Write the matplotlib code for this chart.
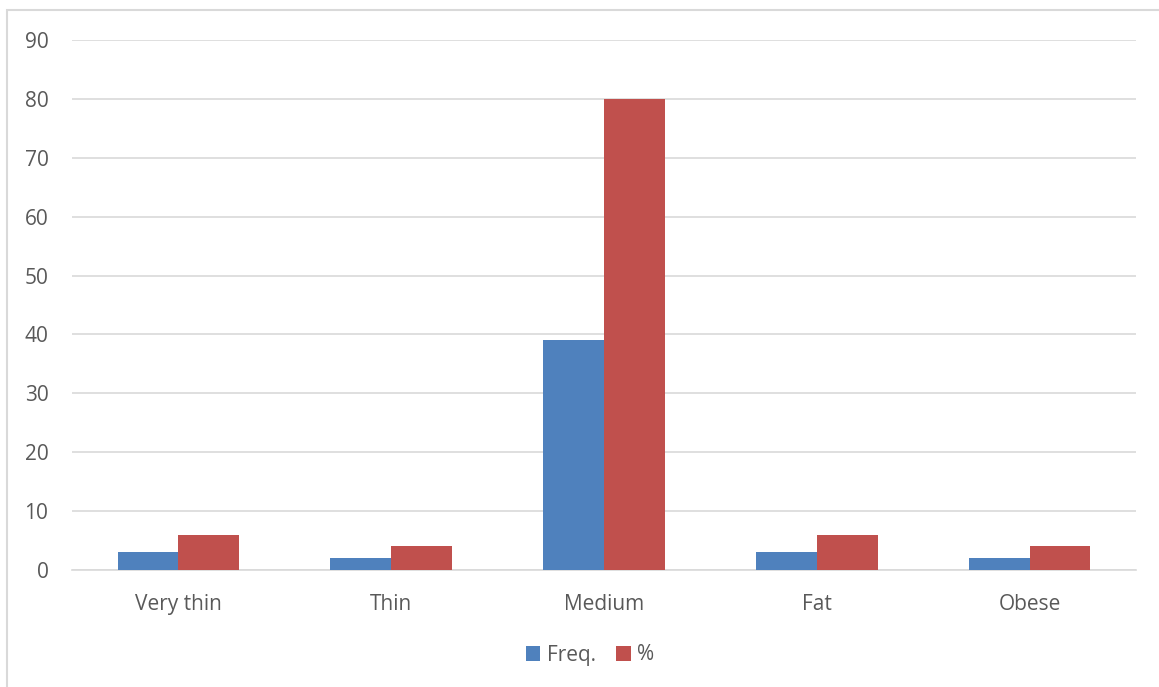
import matplotlib

matplotlib.use("Agg")
import matplotlib.pyplot as plt
import numpy as np
from matplotlib.patches import Rectangle

CATEGORIES = ["Very thin", "Thin", "Medium", "Fat", "Obese"]
FREQ = [3, 2, 39, 3, 2]
PERCENT = [6, 4, 80, 6, 4]
Y_TICKS = list(range(0, 100, 10))

BLUE = "#4f81bd"
RED = "#c0504d"
GRID = "#d9d9d9"
TEXT = "#595959"

plt.rcParams["font.family"] = ["Open Sans", "DejaVu Sans"]

W, H = 1159, 687
fig = plt.figure(figsize=(W / 100, H / 100), dpi=100)
ax = fig.add_axes([72 / W, 117 / H, (1136 - 72) / W, (570 - 40) / H])

x = np.arange(len(CATEGORIES))
width = 1 / 3.5
ax.bar(x - width / 2, FREQ, width, color=BLUE, label="Freq.", zorder=3)
ax.bar(x + width / 2, PERCENT, width, color=RED, label="%", zorder=3)

ax.set_xlim(-0.5, len(CATEGORIES) - 0.5)
ax.set_ylim(0, 90)
ax.set_yticks(Y_TICKS)
ax.set_xticks(x, CATEGORIES)
ax.yaxis.grid(True, color=GRID, linewidth=1.2, zorder=0)
ax.tick_params(axis="both", length=0, labelsize=15, colors=TEXT)
ax.tick_params(axis="x", pad=17)
ax.tick_params(axis="y", pad=17)
for side in ["left", "right", "top"]:
    ax.spines[side].set_visible(False)
ax.spines["bottom"].set_color(GRID)
ax.spines["bottom"].set_linewidth(1.2)

fig.legend(
    loc="center",
    bbox_to_anchor=(590 / W, 1 - 655 / H),
    ncol=2,
    frameon=False,
    fontsize=15,
    labelcolor=TEXT,
    handlelength=0.7,
    handleheight=0.7,
    handletextpad=0.3,
    columnspacing=1.0,
)

# light outer frame around the chart, running off the right and bottom edges
fig.patches.append(
    Rectangle((7 / W, -0.1), 1.1, 1.1 - 10 / H, transform=fig.transFigure,
              fill=False, edgecolor=GRID, linewidth=1.5)
)

fig.savefig("out.png", dpi=100)
